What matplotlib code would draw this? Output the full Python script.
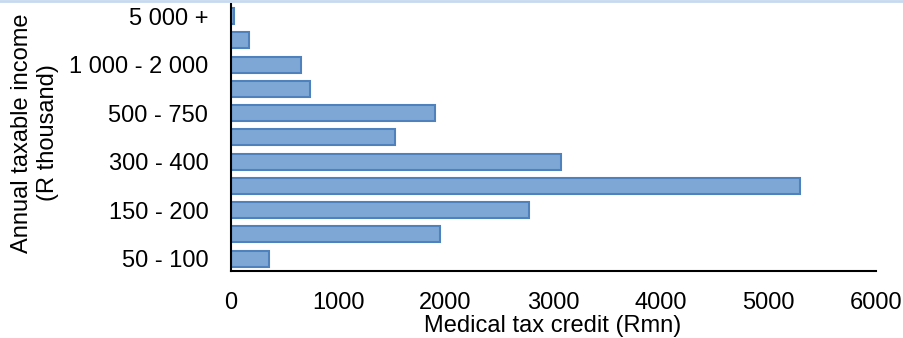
import numpy as np
import matplotlib
matplotlib.use("Agg")
import matplotlib.pyplot as plt
from matplotlib.lines import Line2D

plt.rcParams['font.family'] = ['Liberation Sans', 'DejaVu Sans']

# income brackets (R thousand), bottom to top
brackets = ['50 - 100', '100 - 150', '150 - 200', '200 - 300', '300 - 400',
            '400 - 500', '500 - 750', '750 - 1 000', '1 000 - 2 000',
            '2 000 - 5 000', '5 000 +']
# medical tax credit per bracket (Rmn)
credit = [358, 1945, 2776, 5296, 3072, 1527, 1900, 737, 659, 175, 35]
# only every second bracket is labelled on the axis
shown_labels = ['50 - 100', '150 - 200', '300 - 400', '500 - 750',
                '1 000 - 2 000', '5 000 +']
x_ticks = [0, 1000, 2000, 3000, 4000, 5000, 6000]

fig = plt.figure(figsize=(9.04, 3.38), dpi=100)
ax = fig.add_axes([0.255, 0.199, 0.7137, 0.789])

ypos = np.arange(len(brackets))
ax.barh(ypos, credit, height=0.66, color='#7EA7D5', edgecolor='#4F81BD',
        linewidth=1.5)

ax.set_xlim(0, 6000)
ax.set_ylim(-0.5, len(brackets) - 0.5)
ax.set_xticks(x_ticks)
ax.set_xticklabels([str(v) for v in x_ticks])
ax.set_yticks([i for i, b in enumerate(brackets) if b in shown_labels])
ax.set_yticklabels([b for b in brackets if b in shown_labels])
ax.tick_params(axis='both', length=0, labelsize=17)
ax.tick_params(axis='y', pad=16)
ax.tick_params(axis='x', pad=15)

for side in ['top', 'right']:
    ax.spines[side].set_visible(False)
for side in ['left', 'bottom']:
    ax.spines[side].set_linewidth(1.5)
    ax.spines[side].set_color('black')

ax.set_xlabel('Medical tax credit (Rmn)', fontsize=17, labelpad=1)
fig.text(0.0387, 0.6065, 'Annual taxable income\n(R thousand)', rotation=90,
         ha='center', va='center', fontsize=17, linespacing=1.25)

# light blue frame edge visible at the top of the crop
fig.add_artist(Line2D([0, 1], [0.997, 0.997], transform=fig.transFigure,
                      color='#C6D9F1', linewidth=2))

fig.savefig('out.png', dpi=100)
